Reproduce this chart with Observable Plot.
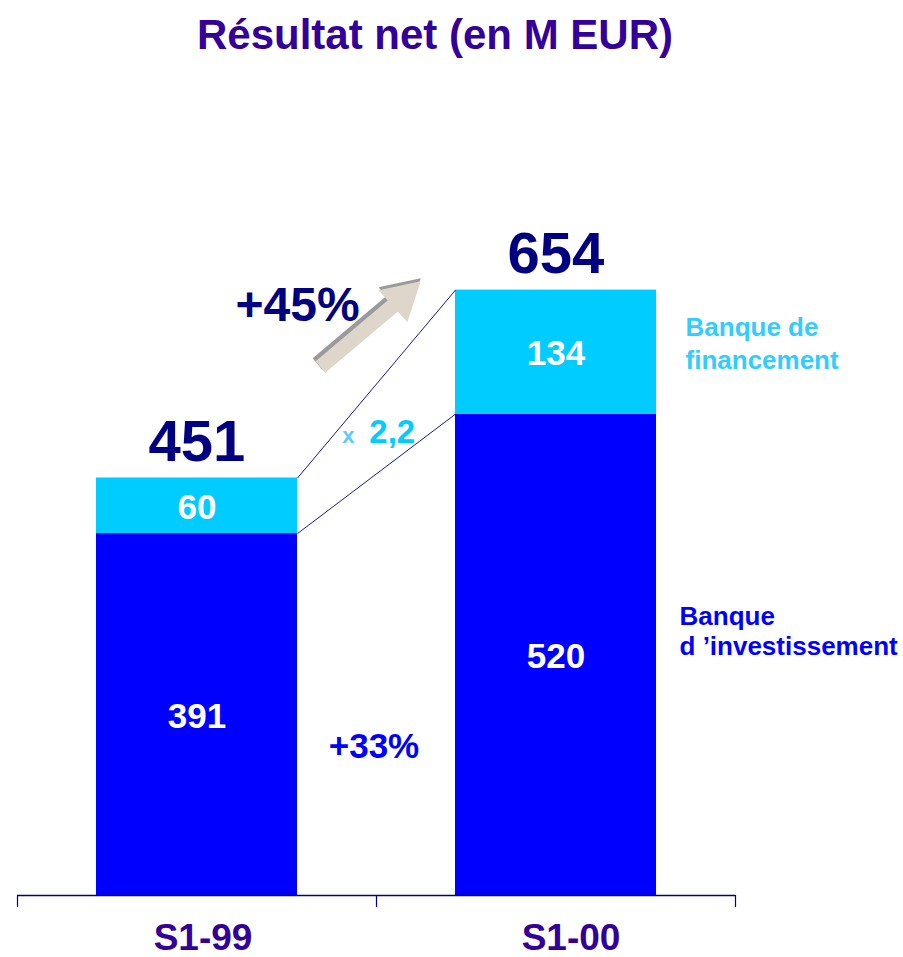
<!DOCTYPE html>
<html><head><meta charset="utf-8">
<script src="https://cdn.jsdelivr.net/npm/d3@7"></script>
<script src="https://cdn.jsdelivr.net/npm/@observablehq/plot@0.6"></script>
<style>
body{margin:0;background:#fff;}
#title{width:870px;height:70px;box-sizing:border-box;padding-top:14px;text-align:center;font:bold 42px/41px "Liberation Sans",Arial,sans-serif;color:#330099;white-space:nowrap;}
</style></head><body>
<div id="title">Résultat net (en M EUR)</div>
<div id="chart"></div>
<script>
// ---- data ----
const categories = ["S1-99", "S1-00"];
const investissement = [391, 520];
const financement = [60, 134];
const totals = [451, 654];
const segmentNames = ["Banque\nd \u2019investissement", "Banque de\nfinancement"];
const growthLabels = ["+45%", "x", "2,2", "+33%"];

// ---- derived table ----
const rows = categories.flatMap((c, i) => [
  {cat: c, i, seg: "inv", value: investissement[i]},
  {cat: c, i, seg: "fin", value: financement[i]}
]);

const barL = 0.22, barR = 0.78;
const font = '"Liberation Sans", Arial, sans-serif';
const navy = "#000080";
const beige = "#ded6ca", shadow = "#9a9a9a";
const arrow = [{x1: 0.844, y1: 571, x2: 1.0716, y2: 645.5}];

const chart = Plot.plot({
  width: 903, height: 887,
  marginLeft: 17, marginRight: 168, marginTop: 177, marginBottom: 62,
  x: {domain: [0, 2], axis: null},
  y: {domain: [0, 700], axis: null},
  color: {domain: ["inv", "fin"], range: ["#0000ff", "#00ccff"]},
  style: {fontFamily: font, background: "#fff", overflow: "visible"},
  marks: [
    Plot.rectY(rows, {x1: d => d.i + barL, x2: d => d.i + barR, y: "value", fill: "seg"}),
    // connectors
    Plot.link([totals, investissement], {
      x1: () => barR, y1: d => d[0], x2: () => 1 + barL, y2: d => d[1],
      stroke: "#1a1a8a", strokeWidth: 1
    }),
    // axis
    Plot.ruleY([0], {stroke: navy, strokeWidth: 1.3}),
    Plot.axisX({ticks: [0, 1, 2], tickSize: 12, tickFormat: () => "", stroke: navy, strokeWidth: 1.2}),
    // segment labels
    Plot.text(rows, Plot.stackY({
      x: d => d.i + 0.5, y: "value", text: d => String(d.value),
      fill: "white", fontSize: 35, fontWeight: "bold", dy: 2
    })),
    // totals
    Plot.text(totals, {
      x: (d, i) => i + 0.5, y: d => d, text: d => String(d),
      lineAnchor: "bottom", dy: -17, fontSize: 58, fontWeight: "bold", fill: navy
    }),
    // category labels
    Plot.text(categories.slice(0, 1), {
      x: d => categories.indexOf(d) + 0.5, y: () => 0, text: d => d,
      lineAnchor: "bottom", dy: 54, dx: 6, fontSize: 37, fontWeight: "bold", fill: "#330099"
    }),
    Plot.text(categories.slice(1), {
      x: d => categories.indexOf(d) + 0.5, y: () => 0, text: d => d,
      lineAnchor: "bottom", dy: 54, dx: 15, fontSize: 37, fontWeight: "bold", fill: "#330099"
    }),
    // arrow
    Plot.link(arrow, {x1: "x1", y1: "y1", x2: "x2", y2: "y2", stroke: shadow, strokeWidth: 15, dx: -3, dy: -3}),
    Plot.dot(arrow, {x: "x2", y: "y2", symbol: "triangle", r: 16, rotate: 48, fill: shadow, stroke: "none", dy: -3}),
    Plot.link(arrow, {x1: "x1", y1: "y1", x2: "x2", y2: "y2", stroke: beige, strokeWidth: 15}),
    Plot.dot(arrow, {x: "x2", y: "y2", symbol: "triangle", r: 16, rotate: 48, fill: beige, stroke: "none"}),
    // growth annotations
    Plot.text([growthLabels[0]], {x: () => 0.78, y: () => 621, text: d => d,
      lineAnchor: "bottom", fontSize: 48, fontWeight: "bold", fill: navy}),
    Plot.text([growthLabels[1]], {x: () => 0.922, y: () => 489, text: d => d,
      lineAnchor: "bottom", fontSize: 22, fontWeight: "bold", fill: "#5ccbff"}),
    Plot.text([growthLabels[2]], {x: () => 0.98, y: () => 489, text: d => d,
      lineAnchor: "bottom", textAnchor: "start", fontSize: 33, fontWeight: "bold", fill: "#00ccff"}),
    Plot.text([growthLabels[3]], {x: () => 0.993, y: () => 149, text: d => d,
      lineAnchor: "bottom", fontSize: 35, fontWeight: "bold", fill: "#0000ff"}),
    // segment legends
    Plot.text([segmentNames[1]], {x: () => 1 + barR, y: () => investissement[1] + financement[1] / 2,
      text: d => d, textAnchor: "start", lineAnchor: "middle", dx: 29, dy: -10.5,
      lineHeight: 1.27, fontSize: 26, fontWeight: "bold", fill: "#33ccff"}),
    Plot.text([segmentNames[0]], {x: () => 1 + barR, y: () => investissement[1] / 2,
      text: d => d, textAnchor: "start", lineAnchor: "middle", dx: 23, dy: -24,
      lineHeight: 1.154, fontSize: 26, fontWeight: "bold", fill: "#0000ff"})
  ]
});
document.getElementById("chart").appendChild(chart);
</script>
</body></html>
